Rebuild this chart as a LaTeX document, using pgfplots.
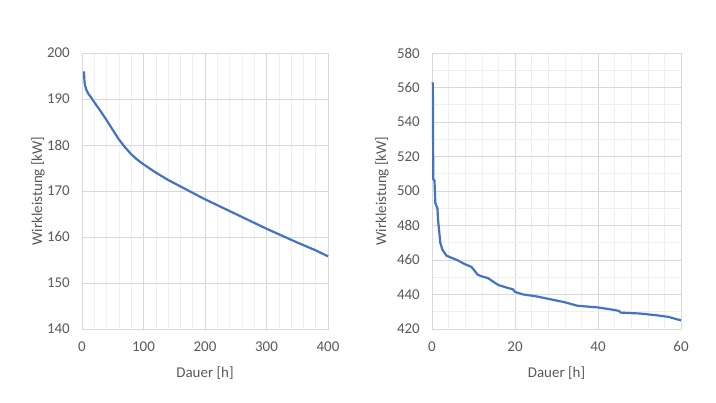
\documentclass[border=0pt]{standalone}
\usepackage{pgfplots}
\pgfplotsset{compat=1.18}
\usepackage{fontspec}
\setmainfont{Carlito}
\definecolor{linec}{HTML}{4472C4}
\definecolor{txt}{HTML}{595959}
\definecolor{majg}{HTML}{D9D9D9}
\definecolor{ming}{HTML}{EFEFEF}
\pgfplotsset{
  exstyle/.style={
    scale only axis,
    anchor=south west,
    axis line style={majg},
    tick style={draw=none},
    major grid style={majg, line width=0.8pt},
    minor grid style={ming, line width=0.6pt},
    ticklabel style={font=\fontsize{15}{18}\selectfont, text=txt},
    label style={font=\fontsize{15}{18}\selectfont, text=txt},
    /pgf/number format/assume math mode=true,
    /pgf/number format/1000 sep={},
    clip=false,
    xlabel={Dauer [h]},
    ylabel={Wirkleistung [kW]},
    xlabel style={at={(axis description cs:0.5,0)}, anchor=center, yshift=-44bp},
    xticklabel style={anchor=center, yshift=-18bp},
    yticklabel style={anchor=east, inner sep=0pt, xshift=-12bp},
  }
}
\begin{document}
\begin{tikzpicture}[x=1bp,y=1bp]
\path[use as bounding box, fill=white] (0,0) rectangle (716,402);
\begin{axis}[exstyle,
  at={(82bp,73bp)}, width=246bp, height=276bp,
  xmin=0, xmax=400, ymin=140, ymax=200,
  xtick={0,100,200,300,400}, ytick={140,150,...,200},
  minor x tick num=4,
  xmajorgrids, ymajorgrids, xminorgrids,
  ylabel style={at={(axis description cs:0,0.5)}, anchor=center, yshift=44bp},
]
\addplot[linec, line width=2.2pt] coordinates {
(3,196) (3.4,195.5) (4,193.8) (5,193) (7,192) (10,191.2) (15,190.3) (20,189.3)
(30,187.4) (40,185.4) (50,183.3) (60,181.2) (70,179.5) (80,178) (90,176.8)
(100,175.8) (120,174) (140,172.4) (160,171) (180,169.6) (200,168.2) (250,165)
(300,161.8) (350,158.8) (380,157.1) (400,155.8)
};
\end{axis}
\begin{axis}[exstyle,
  at={(432bp,73bp)}, width=249bp, height=276bp,
  xmin=0, xmax=60, ymin=420, ymax=580,
  xtick={0,20,40,60}, ytick={420,440,...,580},
  minor x tick num=4, minor y tick num=1,
  xmajorgrids, ymajorgrids, xminorgrids, yminorgrids,
  ylabel style={at={(axis description cs:0,0.5)}, anchor=center, yshift=50bp},
]
\addplot[linec, line width=2.2pt] coordinates {
(0.2,563) (0.3,507) (0.6,506) (0.8,493) (1.3,490) (1.5,482) (2,470) (2.5,466)
(3.5,462.5) (4,462) (6,460) (8,457.5) (9.5,456) (11,451.5) (12,450.5) (13.5,449.5)
(15,447) (16,445.5) (18,444) (19.5,443) (20,441.5) (22,440) (25,439) (28,437.5)
(32,435.5) (35,433.5) (40,432.5) (44,431) (45,430.5) (45.5,429.5) (50,429)
(54,428) (57,427) (60,425)
};
\end{axis}
\end{tikzpicture}
\end{document}
